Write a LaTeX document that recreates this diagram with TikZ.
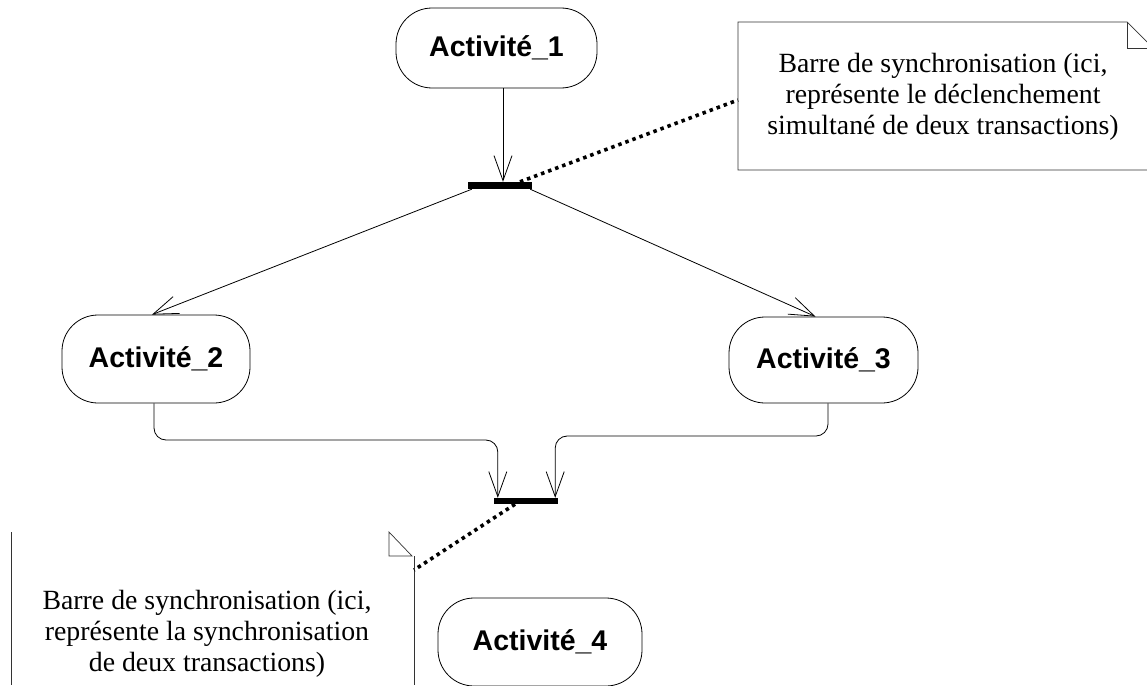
\documentclass[tikz,border=0pt]{standalone}
\usepackage{fontspec}
\setmainfont{Liberation Serif}
\newfontfamily\actfont{Liberation Sans}
\usetikzlibrary{arrows.meta}
\begin{document}
\begin{tikzpicture}[x=1pt,y=-1pt,
  act/.style={draw, line width=0.8pt, rounded corners=36pt, inner sep=0pt,
    font=\actfont\bfseries\fontsize{28.5}{33}\selectfont},
  syncbar/.style={fill=black, inner sep=0pt, minimum width=64pt, minimum height=7pt},
  arr/.style={line width=0.8pt, -{Straight Barb[length=25pt,width=18pt,line width=0.8pt]}},
  notetext/.style={font=\fontsize{27.8}{31}\selectfont, align=center, inner sep=0pt},
  noteline/.style={line width=0.7pt, black!80},
  dots/.style={line width=3.6pt, dash pattern=on 3.5pt off 4pt}]
\useasboundingbox (0,0) rectangle (1147,685);
\clip (0,0) rectangle (1147,685);

% activities and bars
\node[act, minimum width=201pt, minimum height=80pt] (a1) at (496.5,48) {Activité\_1};
\node[syncbar] (b1) at (500,185.5) {};
\node[act, minimum width=188pt, minimum height=88pt] (a2) at (156,359) {Activité\_2};
\node[act, minimum width=189pt, minimum height=86pt] (a3) at (823.5,360) {Activité\_3};
\node[syncbar, minimum height=6pt] (b2) at (526,501) {};
\node[act, minimum width=204pt, minimum height=88pt] (a4) at (540,642) {Activité\_4};

% notes
\node[notetext] (n1) at (943,97) {Barre de synchronisation (ici,\\représente le déclenchement\\simultané de deux transactions)};
\draw[noteline] (1152,170) -- (738,170) -- (738,22) -- (1127,22) -- (1152,47) -- (1152,170);
\draw[noteline] (1127,22) -- (1127,48) -- (1152,48);

\node[notetext] (n2) at (207,634) {Barre de synchronisation (ici,\\représente la synchronisation\\de deux transactions)};
\draw[noteline] (11,532) -- (11,685);
\draw[noteline] (389,532) -- (389,556) -- (412,556) -- cycle;
\draw[noteline] (414,556) -- (414,685);

% connectors
\draw[arr] ([xshift=3pt]b1.north |- a1.south) -- ([xshift=3pt]b1.north);
\draw[arr] ([xshift=4pt]b1.south west) -- ([xshift=-4pt]a2.north);
\draw[arr] ([xshift=-2pt]b1.south east) -- ([xshift=-8pt]a3.north);

\coordinate (j2) at (0,440);
\coordinate (j3) at (0,436);
\draw[arr, rounded corners=12pt] ([xshift=-2pt]a2.south) -- ([xshift=-2pt]a2.south |- j2) -| ([xshift=4pt]b2.north west);
\draw[arr, rounded corners=12pt] ([xshift=4.5pt]a3.south) -- ([xshift=4.5pt]a3.south |- j3) -| ([xshift=-3pt]b2.north east);

% note anchors
\coordinate (n1w) at (738,100);
\coordinate (n2e) at (414,570);
\draw[dots] ([xshift=20pt]b1.north) -- (n1w);
\draw[dots] ([xshift=-11pt]b2.south) -- (n2e);
\end{tikzpicture}
\end{document}
